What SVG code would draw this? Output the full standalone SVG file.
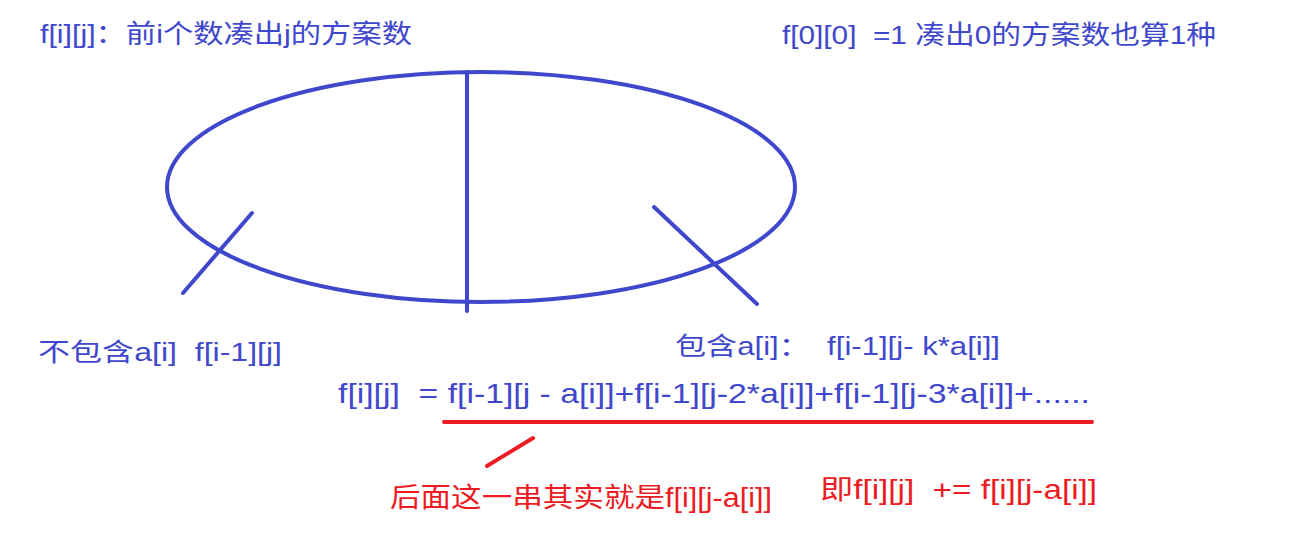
<svg xmlns="http://www.w3.org/2000/svg" width="1293" height="536" viewBox="0 0 1293 536" xml:space="preserve">
<style>
.b{fill:#3f48cc;font-family:"Liberation Sans","Noto Sans CJK SC",sans-serif;white-space:pre}
.r{fill:#ed1c24;font-family:"Liberation Sans","Noto Sans CJK SC",sans-serif;white-space:pre}
.sb{stroke:#3f48cc;stroke-width:4;fill:none;stroke-linecap:round}
.sr{stroke:#ed1c24;stroke-width:4;fill:none;stroke-linecap:round}
</style>
<rect width="1293" height="536" fill="#fff"/>
<g id="shape">
<ellipse class="sb" cx="481" cy="187" rx="314" ry="115"/>
<line class="sb" x1="467" y1="72" x2="467" y2="311"/>
</g>
<g id="connectors">
<line class="sb" x1="252" y1="213" x2="183" y2="293"/>
<line class="sb" x1="654" y1="207" x2="757" y2="304"/>
<line class="sr" x1="444" y1="422" x2="1092" y2="422"/>
<line class="sr" x1="533" y1="438" x2="487" y2="466"/>
</g>
<g id="t1"><text class="b" x="40" y="43" font-size="26" textLength="372" lengthAdjust="spacingAndGlyphs">f[i][j]：前i个数凑出j的方案数</text></g>
<g id="t2"><text class="b" x="782" y="44" font-size="26" textLength="434" lengthAdjust="spacingAndGlyphs">f[0][0]  =1 凑出0的方案数也算1种</text></g>
<g id="t3"><text class="b" x="38" y="361" font-size="25" textLength="244" lengthAdjust="spacingAndGlyphs">不包含a[i]  f[i-1][j]</text></g>
<g id="t4"><text class="b" x="675" y="355" font-size="25" textLength="325" lengthAdjust="spacingAndGlyphs">包含a[i]：  f[i-1][j- k*a[i]]</text></g>
<g id="t5"><text class="b" x="338" y="403" font-size="28" textLength="752" lengthAdjust="spacingAndGlyphs">f[i][j]  = f[i-1][j - a[i]]+f[i-1][j-2*a[i]]+f[i-1][j-3*a[i]]+......</text></g>
<g id="t6"><text class="r" x="390" y="507" font-size="27" textLength="382" lengthAdjust="spacingAndGlyphs">后面这一串其实就是f[i][j-a[i]]</text></g>
<g id="t7"><text class="r" x="820" y="499" font-size="27" textLength="277" lengthAdjust="spacingAndGlyphs">即f[i][j]  += f[i][j-a[i]]</text></g>
</svg>
